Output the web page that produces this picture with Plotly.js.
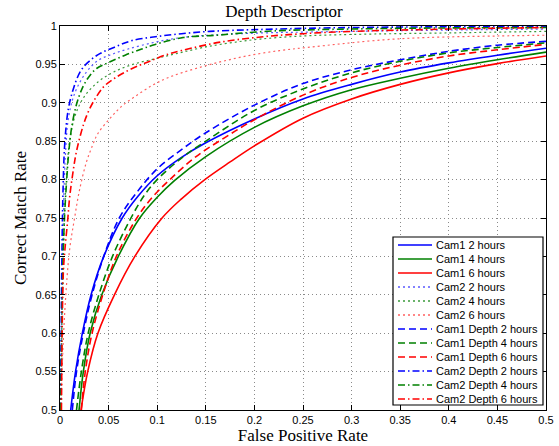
<!DOCTYPE html>
<html><head><meta charset="utf-8">
<script src="https://cdn.plot.ly/plotly-3.0.1.min.js"></script>
<style>html,body{margin:0;padding:0;background:#fff}#chart{width:559px;height:446px}</style>
</head><body><div id="chart"></div>
<script>
// ---- tick labels ----
const xTickVals = [0, 0.05, 0.1, 0.15, 0.2, 0.25, 0.3, 0.35, 0.4, 0.45, 0.5];
const xTickText = ['0', '0.05', '0.1', '0.15', '0.2', '0.25', '0.3', '0.35', '0.4', '0.45', '0.5'];
const yTickVals = [0.5, 0.55, 0.6, 0.65, 0.7, 0.75, 0.8, 0.85, 0.9, 0.95, 1];
const yTickText = ['0.5', '0.55', '0.6', '0.65', '0.7', '0.75', '0.8', '0.85', '0.9', '0.95', '1'];

// ---- series names ----
const seriesNames = [
  'Cam1 2 hours', 'Cam1 4 hours', 'Cam1 6 hours',
  'Cam2 2 hours', 'Cam2 4 hours', 'Cam2 6 hours',
  'Cam1 Depth 2 hours', 'Cam1 Depth 4 hours', 'Cam1 Depth 6 hours',
  'Cam2 Depth 2 hours', 'Cam2 Depth 4 hours', 'Cam2 Depth 6 hours'
];

// ---- data (False Positive Rate, Correct Match Rate) ----
const cam1_2h_fpr = [0.011, 0.016, 0.023, 0.032, 0.045, 0.064, 0.080, 0.100, 0.125, 0.150, 0.200, 0.250, 0.300, 0.350, 0.400, 0.450, 0.500];
const cam1_2h_cmr = [0.50, 0.55, 0.60, 0.65, 0.70, 0.75, 0.778, 0.805, 0.829, 0.848, 0.879, 0.905, 0.924, 0.940, 0.952, 0.962, 0.971];

const cam1_4h_fpr = [0.0196, 0.024, 0.031, 0.043, 0.060, 0.082, 0.100, 0.118, 0.150, 0.200, 0.250, 0.300, 0.350, 0.400, 0.450, 0.500];
const cam1_4h_cmr = [0.50, 0.55, 0.60, 0.65, 0.70, 0.75, 0.777, 0.799, 0.830, 0.868, 0.896, 0.917, 0.932, 0.945, 0.956, 0.966];

const cam1_6h_fpr = [0.0216, 0.0285, 0.039, 0.056, 0.077, 0.105, 0.125, 0.149, 0.175, 0.200, 0.250, 0.300, 0.350, 0.400, 0.450, 0.500];
const cam1_6h_cmr = [0.50, 0.55, 0.60, 0.65, 0.70, 0.75, 0.775, 0.800, 0.823, 0.844, 0.880, 0.905, 0.924, 0.939, 0.951, 0.961];

const cam2_2h_fpr = [0.0005, 0.0015, 0.003, 0.0055, 0.0086, 0.015, 0.026, 0.039, 0.053, 0.070, 0.098, 0.125, 0.168, 0.209, 0.250, 0.350, 0.500];
const cam2_2h_cmr = [0.50, 0.62, 0.73, 0.83, 0.879, 0.912, 0.938, 0.955, 0.963, 0.970, 0.979, 0.985, 0.989, 0.991, 0.992, 0.994, 0.996];

const cam2_4h_fpr = [0.001, 0.003, 0.006, 0.010, 0.016, 0.025, 0.039, 0.055, 0.075, 0.100, 0.123, 0.147, 0.175, 0.206, 0.250, 0.300, 0.400, 0.500];
const cam2_4h_cmr = [0.50, 0.68, 0.79, 0.85, 0.885, 0.908, 0.927, 0.940, 0.950, 0.958, 0.965, 0.972, 0.978, 0.983, 0.987, 0.989, 0.991, 0.993];

const cam2_6h_fpr = [0.001, 0.003, 0.006, 0.010, 0.015, 0.020, 0.027, 0.033, 0.039, 0.051, 0.063, 0.077, 0.094, 0.108, 0.125, 0.158, 0.192, 0.226, 0.254, 0.291, 0.333, 0.377, 0.450, 0.500];
const cam2_6h_cmr = [0.50, 0.58, 0.65, 0.71, 0.750, 0.786, 0.822, 0.843, 0.860, 0.879, 0.895, 0.908, 0.922, 0.931, 0.939, 0.951, 0.961, 0.968, 0.972, 0.977, 0.982, 0.985, 0.987, 0.988];

const cam1d_2h_fpr = [0.0127, 0.017, 0.024, 0.033, 0.045, 0.061, 0.080, 0.100, 0.125, 0.150, 0.200, 0.250, 0.300, 0.350, 0.400, 0.450, 0.500];
const cam1d_2h_cmr = [0.50, 0.55, 0.60, 0.65, 0.70, 0.75, 0.785, 0.814, 0.839, 0.861, 0.897, 0.925, 0.943, 0.956, 0.967, 0.975, 0.980];

const cam1d_4h_fpr = [0.017, 0.022, 0.029, 0.040, 0.054, 0.073, 0.087, 0.100, 0.125, 0.150, 0.200, 0.250, 0.300, 0.350, 0.400, 0.450, 0.500];
const cam1d_4h_cmr = [0.50, 0.55, 0.60, 0.65, 0.70, 0.75, 0.780, 0.800, 0.828, 0.850, 0.890, 0.918, 0.939, 0.954, 0.965, 0.972, 0.978];

const cam1d_6h_fpr = [0.022, 0.026, 0.033, 0.044, 0.058, 0.079, 0.095, 0.113, 0.140, 0.170, 0.200, 0.250, 0.300, 0.350, 0.400, 0.450, 0.500];
const cam1d_6h_cmr = [0.50, 0.55, 0.60, 0.65, 0.70, 0.75, 0.777, 0.800, 0.830, 0.855, 0.878, 0.910, 0.933, 0.949, 0.961, 0.969, 0.976];

const cam2d_2h_fpr = [0.0005, 0.0012, 0.0017, 0.003, 0.005, 0.0086, 0.0137, 0.0206, 0.029, 0.041, 0.057, 0.074, 0.098, 0.125, 0.154, 0.192, 0.223, 0.253, 0.300, 0.400, 0.500];
const cam2d_2h_cmr = [0.50, 0.60, 0.67, 0.78, 0.849, 0.892, 0.918, 0.940, 0.953, 0.964, 0.973, 0.981, 0.986, 0.990, 0.993, 0.995, 0.996, 0.997, 0.998, 0.999, 0.999];

const cam2d_4h_fpr = [0.0008, 0.002, 0.0034, 0.005, 0.0069, 0.0086, 0.010, 0.012, 0.017, 0.024, 0.031, 0.038, 0.051, 0.067, 0.084, 0.098, 0.127, 0.161, 0.189, 0.226, 0.255, 0.350, 0.500];
const cam2d_4h_cmr = [0.50, 0.62, 0.708, 0.76, 0.80, 0.83, 0.848, 0.868, 0.898, 0.922, 0.936, 0.945, 0.953, 0.962, 0.970, 0.976, 0.985, 0.988, 0.991, 0.994, 0.995, 0.997, 0.998];

const cam2d_6h_fpr = [0.0015, 0.0034, 0.005, 0.0079, 0.010, 0.0137, 0.017, 0.024, 0.029, 0.036, 0.045, 0.055, 0.067, 0.082, 0.094, 0.108, 0.125, 0.165, 0.209, 0.250, 0.300, 0.400, 0.500];
const cam2d_6h_cmr = [0.50, 0.678, 0.708, 0.747, 0.778, 0.8125, 0.837, 0.871, 0.888, 0.905, 0.921, 0.931, 0.940, 0.949, 0.955, 0.962, 0.968, 0.979, 0.986, 0.990, 0.993, 0.996, 0.998];

const seriesX = [cam1_2h_fpr, cam1_4h_fpr, cam1_6h_fpr, cam2_2h_fpr, cam2_4h_fpr, cam2_6h_fpr,
                 cam1d_2h_fpr, cam1d_4h_fpr, cam1d_6h_fpr, cam2d_2h_fpr, cam2d_4h_fpr, cam2d_6h_fpr];
const seriesY = [cam1_2h_cmr, cam1_4h_cmr, cam1_6h_cmr, cam2_2h_cmr, cam2_4h_cmr, cam2_6h_cmr,
                 cam1d_2h_cmr, cam1d_4h_cmr, cam1d_6h_cmr, cam2d_2h_cmr, cam2d_4h_cmr, cam2d_6h_cmr];

// ---- styles ----
const colors = ['#0000ff', '#008000', '#ff0000'];
const dotColors = ['#5a5aff', '#3a9a3a', '#ff6060'];
const dashes = ['solid', '2px,3px', '7px,4px', '7px,3px,1.5px,3px'];
const widths = [1.6, 1.2, 1.6, 1.6];
const lineColor = i => (Math.floor(i / 3) === 1 ? dotColors[i % 3] : colors[i % 3]);

const traces = seriesNames.map((name, i) => ({
  type: 'scatter', mode: 'lines', name: name,
  x: seriesX[i], y: seriesY[i],
  line: {color: lineColor(i), dash: dashes[Math.floor(i / 3)], width: widths[Math.floor(i / 3)], shape: 'spline', smoothing: 1},
  showlegend: false, hoverinfo: 'skip'
}));

// ---- legend drawn with shapes + annotations in paper coords ----
const W = 559, H = 446, L = 60, R = 13, T = 26, B = 36;
const pw = W - L - R, ph = H - T - B;
const px = v => (v - L) / pw;
const py = v => (H - B - v) / ph;
const shapes = [{type: 'rect', xref: 'paper', yref: 'paper', x0: px(393), x1: px(543), y0: py(405), y1: py(237),
  line: {color: '#000', width: 1.2}, fillcolor: '#fff', layer: 'above'}];
const annotations = [];
seriesNames.forEach((name, i) => {
  const yy = 245 + 14 * i;
  const g = Math.floor(i / 3);
  shapes.push({type: 'line', xref: 'paper', yref: 'paper', x0: px(398), x1: px(432), y0: py(yy), y1: py(yy),
    line: {color: lineColor(i), dash: dashes[g], width: widths[g] + (g === 1 ? 0.3 : 0)}, layer: 'above'});
  annotations.push({xref: 'paper', yref: 'paper', x: px(434), y: py(yy), xanchor: 'left', yanchor: 'middle',
    text: name, showarrow: false, font: {family: 'Liberation Sans, Arial, sans-serif', size: 11, color: '#000'}});
});

const axisCommon = {
  showline: true, linecolor: '#000', linewidth: 1, mirror: 'ticks',
  ticks: 'inside', ticklen: 5, tickcolor: '#000', tickwidth: 1,
  showgrid: true, gridcolor: '#8a8a8a', griddash: '1px,3px', gridwidth: 1,
  zeroline: false, tickmode: 'array',
  tickfont: {family: 'Liberation Sans, Arial, sans-serif', size: 11, color: '#000'}
};

const layout = {
  width: W, height: H,
  margin: {l: L, r: R, t: T, b: B, pad: 0},
  paper_bgcolor: '#fff', plot_bgcolor: '#fff',
  showlegend: false,
  title: {text: 'Depth Descriptor', x: 284 / W, xanchor: 'center', xref: 'container', y: 1 - 11 / H, yanchor: 'middle', yref: 'container',
    font: {family: 'Liberation Serif, Times New Roman, serif', size: 17, color: '#000'}},
  xaxis: Object.assign({}, axisCommon, {range: [0, 0.5], tickvals: xTickVals, ticktext: xTickText,
    title: {text: 'False Positive Rate', standoff: 3, font: {family: 'Liberation Serif, Times New Roman, serif', size: 17, color: '#000'}}}),
  yaxis: Object.assign({}, axisCommon, {range: [0.5, 1], tickvals: yTickVals, ticktext: yTickText,
    title: {text: 'Correct Match Rate', standoff: 4, font: {family: 'Liberation Serif, Times New Roman, serif', size: 17, color: '#000'}}}),
  shapes: shapes, annotations: annotations
};

Plotly.newPlot('chart', traces, layout, {staticPlot: true, displayModeBar: false});
</script></body></html>
